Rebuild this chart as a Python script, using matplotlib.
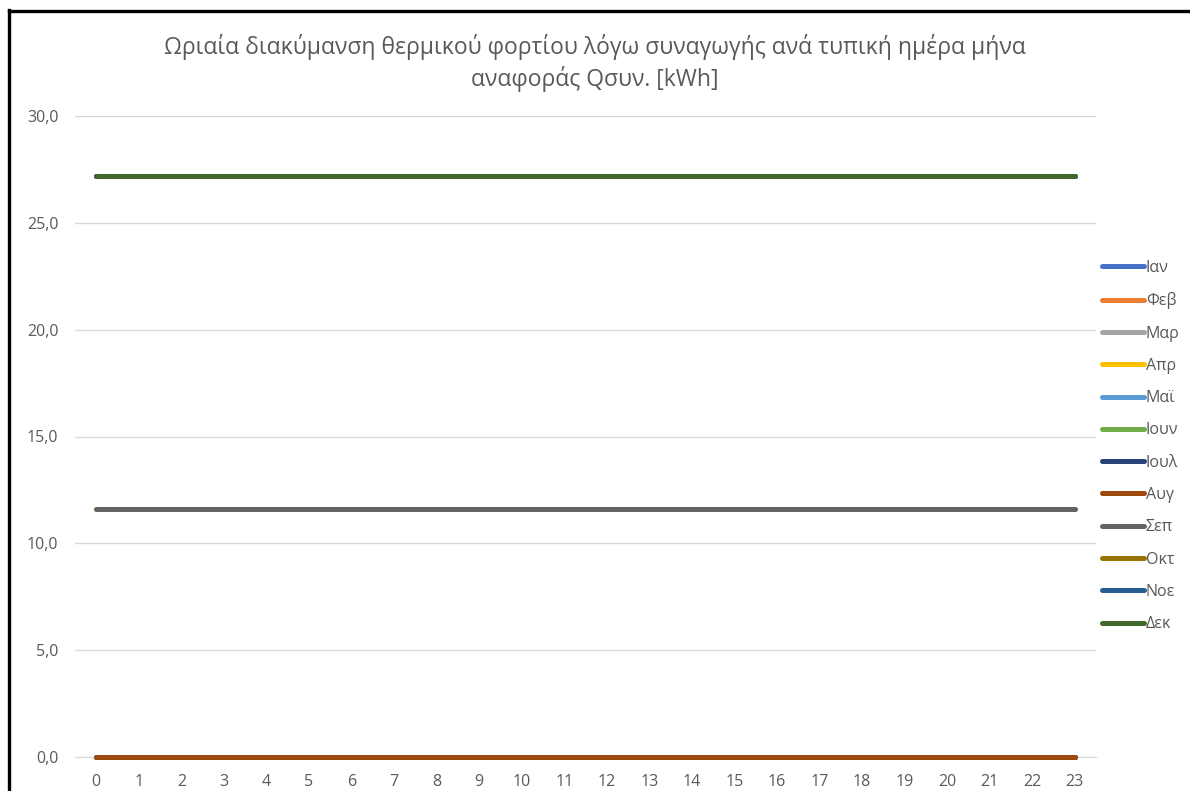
import numpy as np
import matplotlib.pyplot as plt
from matplotlib.lines import Line2D

plt.rcParams['font.family'] = ['Open Sans', 'DejaVu Sans']

months = ['Ιαν', 'Φεβ', 'Μαρ', 'Απρ', 'Μαϊ', 'Ιουν',
          'Ιουλ', 'Αυγ', 'Σεπ', 'Οκτ', 'Νοε', 'Δεκ']
# hourly convective heat load per typical day of each month [kWh]
monthly_load = [27.2, 27.2, 27.2, 11.6, 0.0, 0.0,
                0.0, 0.0, 11.6, 27.2, 27.2, 27.2]
hours = list(range(24))
colors = ['#4472C4', '#ED7D31', '#A5A5A5', '#FFC000', '#5B9BD5', '#70AD47',
          '#264478', '#9E480E', '#636363', '#997300', '#255E91', '#43682B']

W, H = 1190, 791
fig = plt.figure(figsize=(W / 100, H / 100), dpi=100)
ax = fig.add_axes([75 / W, 1 - 757 / H, (1096 - 75) / W, (757 - 116) / H])

for name, val, c in zip(months, monthly_load, colors):
    ax.plot(hours, [val] * len(hours), color=c, lw=3.6,
            solid_capstyle='round', label=name, zorder=3, clip_on=False)

ax.set_xlim(-0.5, 23.5)
ax.set_ylim(0, 30)
ax.set_xticks(hours)
ax.set_yticks(np.arange(0, 31, 5))
ax.set_yticklabels([f'{v:.1f}'.replace('.', ',') for v in np.arange(0, 31, 5)])
ax.grid(axis='y', color='#D9D9D9', lw=1.0, zorder=0)
ax.tick_params(length=0, colors='#595959', labelsize=11.5)
ax.tick_params(axis='y', pad=12)
ax.tick_params(axis='x', pad=12)
for side in ['top', 'right', 'left']:
    ax.spines[side].set_visible(False)
ax.spines['bottom'].set_color('#D9D9D9')

fig.text(0.5, 1 - 63 / H,
         'Ωριαία διακύμανση θερμικού φορτίου λόγω συναγωγής ανά τυπική ημέρα μήνα\nαναφοράς Qσυν. [kWh]',
         ha='center', va='center', fontsize=16.5, color='#595959', linespacing=1.3)

leg = fig.legend(loc='upper left', bbox_to_anchor=(1102 / W, 1 - 260 / H),
                 frameon=False, fontsize=11.5, handlelength=2.6,
                 handletextpad=0.15, labelspacing=1.02, borderaxespad=0,
                 borderpad=0)
for t in leg.get_texts():
    t.set_color('#595959')

# frame edges along the top and left
fig.add_artist(Line2D([8.5 / W, 8.5 / W], [0, 1 - 10 / H], color='black', lw=2.4,
                      transform=fig.transFigure))
fig.add_artist(Line2D([8.5 / W, 1], [1 - 11 / H, 1 - 11 / H], color='black', lw=2.4,
                      transform=fig.transFigure))

fig.savefig('out.png', dpi=100, facecolor='white')
